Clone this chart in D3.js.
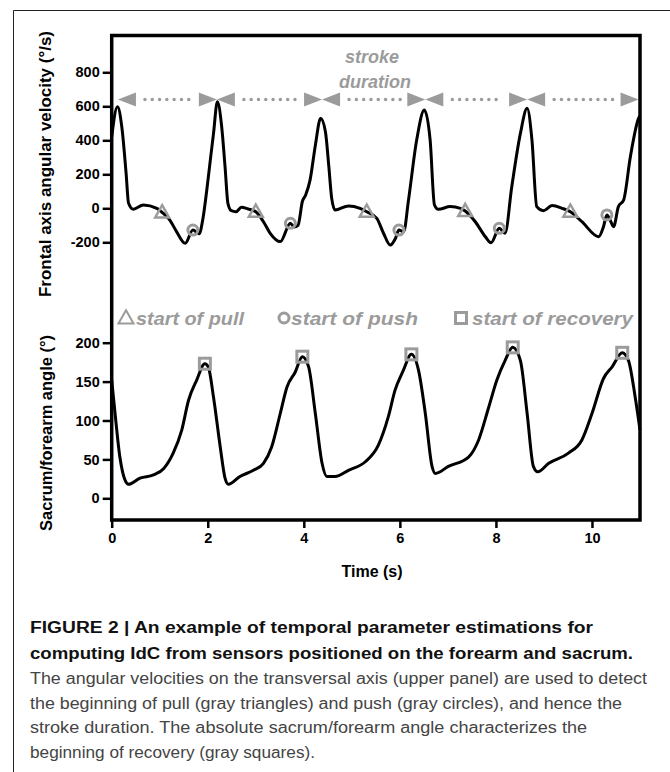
<!DOCTYPE html>
<html>
<head>
<meta charset="utf-8">
<script src="https://cdn.jsdelivr.net/npm/d3@7"></script>
<style>
  body { margin: 0; background: #fff; }
  svg { display: block; font-family: "Liberation Sans", Arial, Helvetica, sans-serif; }
</style>
</head>
<body>
<svg id="chart" width="670" height="772"></svg>
<script>
// upper panel - frontal axis angular velocity (deg/s)
const velocityTime = [0, 0.12, 0.21, 0.30, 0.35, 0.45, 0.66, 0.94, 1.05, 1.21, 1.35, 1.53, 1.69, 1.82, 1.90, 1.98, 2.06, 2.12, 2.20,
  2.29, 2.36, 2.42, 2.49, 2.59, 2.70, 2.84, 3.00, 3.16, 3.30, 3.51, 3.72, 3.80, 3.88, 3.97, 4.04, 4.13, 4.24, 4.35,
  4.45, 4.52, 4.58, 4.65, 4.93, 5.17, 5.31, 5.52, 5.66, 5.80, 5.91, 5.98, 6.08, 6.18, 6.35, 6.51,
  6.63, 6.72, 6.80, 7.05, 7.26, 7.36, 7.57, 7.78, 7.90, 8.07, 8.19, 8.33, 8.51, 8.65,
  8.75, 8.85, 8.99, 9.17, 9.38, 9.55, 9.79, 10.14, 10.24, 10.31, 10.38, 10.45, 10.55, 10.66, 10.80, 10.97, 11.0];
const velocityValue = [421, 598, 480, 206, 31, -6, 20, 0, -24, -69, -137, -206, -128, -150, -60, 108, 300, 441, 627,
  480, 245, 29, -14, -20, 6, -4, -20, -79, -147, -196, -88, -110, -100, 40, 80, 166, 370, 529,
  450, 250, 60, -10, 14, 0, -20, -59, -147, -216, -176, -128, -137, 49, 402, 578,
  402, 20, -6, 10, 0, -16, -79, -167, -202, -118, -147, 127, 441, 588,
  402, 10, -14, 16, 0, -20, -79, -167, -108, -39, -70, -108, 10, 49, 304, 529, 545];

// lower panel - sacrum/forearm angle (deg)
const angleTime = [0, 0.07, 0.17, 0.28, 0.35, 0.59, 0.87, 1.08, 1.28, 1.46, 1.60, 1.77, 1.94, 2.01, 2.12, 2.26, 2.36, 2.43,
  2.67, 2.95, 3.16, 3.33, 3.51, 3.65, 3.82, 3.97, 4.10, 4.24, 4.38, 4.48, 4.65, 4.93, 5.28, 5.55, 5.76, 5.90,
  6.07, 6.24, 6.39, 6.53, 6.67, 6.74, 7.01, 7.43, 7.64, 7.85, 8.02, 8.19, 8.35, 8.51, 8.65, 8.78, 8.87,
  9.10, 9.51, 9.79, 10.0, 10.24, 10.42, 10.63, 10.76, 10.90, 11.0];
const angleValue = [152, 109, 53, 23, 18, 26, 30, 38, 58, 88, 126, 152, 173, 169, 130, 66, 26, 18,
  28, 36, 45, 66, 109, 143, 162, 182, 169, 109, 45, 28, 28, 36, 47, 68, 105, 139,
  164, 185, 164, 109, 41, 32, 41, 53, 75, 117, 152, 177, 194, 177, 109, 41, 34,
  45, 58, 75, 109, 154, 169, 187, 177, 130, 88];

// detected events
const pullTime = [1.05, 3.00, 5.31, 7.36, 9.55];
const pullValue = [-24, -20, -20, -16, -20];
const pushTime = [1.69, 3.72, 5.98, 8.07, 10.31];
const pushValue = [-128, -88, -128, -118, -39];
const recoveryTime = [1.94, 3.97, 6.24, 8.35, 10.63];
const recoveryValue = [173, 182, 185, 194, 187];
const strokeBounds = [0.13, 2.19, 4.38, 6.53, 8.65, 10.97];

const xTicks = [0, 2, 4, 6, 8, 10];
const velocityTicks = [-200, 0, 200, 400, 600, 800];
const angleTicks = [0, 50, 100, 150, 200];

const captionBold = [
  "FIGURE 2 | An example of temporal parameter estimations for",
  "computing IdC from sensors positioned on the forearm and sacrum."
];
const captionText = [
  "The angular velocities on the transversal axis (upper panel) are used to detect",
  "the beginning of pull (gray triangles) and push (gray circles), and hence the",
  "stroke duration. The absolute sacrum/forearm angle characterizes the",
  "beginning of recovery (gray squares)."
];

const svg = d3.select("#chart");
const gray = "#9b9b9b";

const frameLeft = 111.7, frameRight = 640, frameTop = 35.5, frameBottom = 520;

const x = d3.scaleLinear().domain([0, 11]).range([frameLeft, frameRight]);
const yTop = d3.scaleLinear().domain([0, 800]).range([208.3, 72.3]);
const yBot = d3.scaleLinear().domain([0, 200]).range([498.3, 342.7]);

// page border (left + top rules)
svg.append("path")
  .attr("d", `M13.5,772 V10.5 H670`)
  .attr("fill", "none")
  .attr("stroke", "#222")
  .attr("stroke-width", 1);

const styleAxis = (g) => {
  g.select(".domain").remove();
  g.selectAll(".tick line").attr("stroke", "#000").attr("stroke-width", 2.5);
  g.selectAll(".tick text")
    .attr("fill", "#000")
    .style("font-size", "14.5px")
    .style("font-weight", "bold");
};

svg.append("g")
  .attr("transform", `translate(${frameLeft},0)`)
  .call(d3.axisLeft(yTop).tickValues(velocityTicks).tickSize(9).tickPadding(3).tickFormat(d => String(d)))
  .call(styleAxis);

svg.append("g")
  .attr("transform", `translate(${frameLeft},0)`)
  .call(d3.axisLeft(yBot).tickValues(angleTicks).tickSize(9).tickPadding(3).tickFormat(d => String(d)))
  .call(styleAxis);

svg.append("g")
  .attr("transform", `translate(0,${frameBottom})`)
  .call(d3.axisBottom(x).tickValues(xTicks).tickSize(8).tickPadding(5).tickFormat(d => String(d)))
  .call(styleAxis);

// axis titles
svg.append("text")
  .attr("transform", "translate(51,164) rotate(-90)")
  .attr("text-anchor", "middle")
  .attr("textLength", 266)
  .attr("lengthAdjust", "spacingAndGlyphs")
  .style("font-size", "17px").style("font-weight", "bold")
  .text("Frontal axis angular velocity (°/s)");

svg.append("text")
  .attr("transform", "translate(52,433) rotate(-90)")
  .attr("text-anchor", "middle")
  .attr("textLength", 196)
  .attr("lengthAdjust", "spacingAndGlyphs")
  .style("font-size", "17px").style("font-weight", "bold")
  .text("Sacrum/forearm angle (°)");

svg.append("text")
  .attr("x", 372).attr("y", 577)
  .attr("text-anchor", "middle")
  .style("font-size", "16px").style("font-weight", "bold")
  .text("Time (s)");

// stroke duration arrows
const arrowY = yTop(640);
const headLen = 18, headHalf = 7;
const segments = d3.pairs(strokeBounds);

svg.append("g").selectAll("line")
  .data(segments)
  .enter()
  .append("line")
  .attr("x1", d => x(d[0]) + headLen + 9)
  .attr("x2", d => x(d[1]) - headLen - 6)
  .attr("y1", arrowY).attr("y2", arrowY)
  .attr("stroke", gray)
  .attr("stroke-width", 3.5)
  .attr("stroke-linecap", "round")
  .attr("stroke-dasharray", "0,7.3");

const heads = segments.flatMap(d => [{tip: x(d[0]), dir: 1}, {tip: x(d[1]), dir: -1}]);
svg.append("g").selectAll("polygon")
  .data(heads)
  .enter()
  .append("polygon")
  .attr("points", d => `${d.tip},${arrowY} ${d.tip + d.dir * headLen},${arrowY - headHalf} ${d.tip + d.dir * headLen},${arrowY + headHalf}`)
  .attr("fill", gray);

svg.append("text")
  .attr("x", 372).attr("y", 63)
  .attr("text-anchor", "middle")
  .attr("fill", gray)
  .style("font-size", "18px").style("font-weight", "bold").style("font-style", "italic")
  .text("stroke");
svg.append("text")
  .attr("x", 375).attr("y", 88)
  .attr("text-anchor", "middle")
  .attr("fill", gray)
  .style("font-size", "18px").style("font-weight", "bold").style("font-style", "italic")
  .text("duration");

// curves
const line = d3.line().curve(d3.curveMonotoneX);

svg.append("path")
  .attr("d", line(velocityTime.map((t, i) => [x(t), yTop(velocityValue[i])])))
  .attr("fill", "none")
  .attr("stroke", "#000")
  .attr("stroke-width", 3)
  .attr("stroke-linejoin", "round");

svg.append("path")
  .attr("d", line(angleTime.map((t, i) => [x(t), yBot(angleValue[i])])))
  .attr("fill", "none")
  .attr("stroke", "#000")
  .attr("stroke-width", 3)
  .attr("stroke-linejoin", "round");

// markers
const triPath = (cx, cy, s) => `M${cx},${cy - s * 0.6} L${cx + s * 0.58},${cy + s * 0.42} L${cx - s * 0.58},${cy + s * 0.42} Z`;

const drawTriangle = (sel, s) => sel
  .attr("d", d => triPath(d[0], d[1], s))
  .attr("fill", "none")
  .attr("stroke", gray)
  .attr("stroke-width", 2.5)
  .attr("stroke-linejoin", "miter");

const drawCircle = (sel) => sel
  .attr("cx", d => d[0]).attr("cy", d => d[1])
  .attr("r", 5)
  .attr("fill", "none")
  .attr("stroke", gray)
  .attr("stroke-width", 3);

const drawSquare = (sel) => sel
  .attr("x", d => d[0] - 5.5).attr("y", d => d[1] - 5.5)
  .attr("width", 11).attr("height", 11)
  .attr("fill", "none")
  .attr("stroke", gray)
  .attr("stroke-width", 3);

svg.append("g").selectAll("path")
  .data(pullTime.map((t, i) => [x(t), yTop(pullValue[i])]))
  .enter().append("path")
  .call(drawTriangle, 12);

svg.append("g").selectAll("circle")
  .data(pushTime.map((t, i) => [x(t), yTop(pushValue[i])]))
  .enter().append("circle")
  .call(drawCircle);

svg.append("g").selectAll("rect")
  .data(recoveryTime.map((t, i) => [x(t), yBot(recoveryValue[i])]))
  .enter().append("rect")
  .call(drawSquare);

// legend
const legendY = 318;
const legendItems = [
  {label: "start of pull", mx: 126, tx: 136, len: 108, shape: "tri"},
  {label: "start of push", mx: 284, tx: 291, len: 127, shape: "circle"},
  {label: "start of recovery", mx: 461, tx: 472, len: 161, shape: "square"}
];
legendItems.forEach(d => {
  if (d.shape === "tri") svg.append("path").datum([d.mx, legendY]).call(drawTriangle, 13).attr("stroke-width", 2);
  if (d.shape === "circle") svg.append("circle").datum([d.mx, legendY]).call(drawCircle);
  if (d.shape === "square") svg.append("rect").datum([d.mx, legendY]).call(drawSquare);
  svg.append("text")
    .attr("x", d.tx).attr("y", legendY + 6.5)
    .attr("textLength", d.len)
    .attr("lengthAdjust", "spacingAndGlyphs")
    .attr("fill", gray)
    .style("font-size", "19px").style("font-weight", "bold").style("font-style", "italic")
    .text(d.label);
});

// frame on top
svg.append("rect")
  .attr("x", frameLeft).attr("y", frameTop)
  .attr("width", frameRight - frameLeft).attr("height", frameBottom - frameTop)
  .attr("fill", "none")
  .attr("stroke", "#000")
  .attr("stroke-width", 3.5);

// caption
const boldLens = [563, 603];
svg.append("g").selectAll("text")
  .data(captionBold)
  .enter().append("text")
  .attr("x", 30)
  .attr("y", (d, i) => 633 + i * 26)
  .attr("textLength", (d, i) => boldLens[i])
  .attr("lengthAdjust", "spacingAndGlyphs")
  .attr("fill", "#111")
  .style("font-size", "16px").style("font-weight", "bold")
  .text(d => d);

const textLens = [617, 592, 557, 285];
svg.append("g").selectAll("text")
  .data(captionText)
  .enter().append("text")
  .attr("x", 30)
  .attr("y", (d, i) => 684 + i * 24.7)
  .attr("textLength", (d, i) => textLens[i])
  .attr("lengthAdjust", "spacingAndGlyphs")
  .attr("fill", "#444")
  .style("font-size", "16px")
  .text(d => d);
</script>
</body>
</html>
